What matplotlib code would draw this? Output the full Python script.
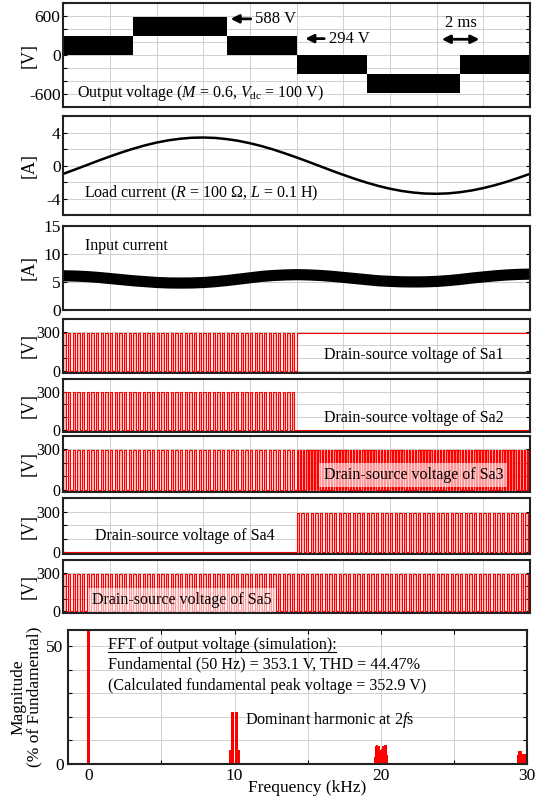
import numpy as np
import matplotlib
matplotlib.use('Agg')
import matplotlib.pyplot as plt
from matplotlib.lines import Line2D

# fonts
plt.rcParams['font.family'] = ['Liberation Serif', 'DejaVu Serif']
plt.rcParams['mathtext.fontset'] = 'custom'
plt.rcParams['mathtext.rm'] = 'Liberation Serif'
plt.rcParams['mathtext.it'] = 'Liberation Serif:italic'

# ---------------- data ----------------
# output voltage band (PWM between two levels), time in ms
vout_edges_ms = [0, 3, 7, 10, 13, 17, 20]
vout_low = [0, 294, 0, -294, -588, -294]
vout_high = [294, 588, 294, 0, -294, 0]

# load current (A), every 0.5 ms
t_half_ms = [i * 0.5 for i in range(41)]
i_load = [-0.99, -0.47, 0.06, 0.60, 1.11, 1.60, 2.05, 2.45, 2.79, 3.06,
          3.25, 3.37, 3.40, 3.35, 3.21, 3.00, 2.71, 2.36, 1.95, 1.48,
          0.99, 0.47, -0.06, -0.60, -1.11, -1.60, -2.05, -2.45, -2.79, -3.06,
          -3.25, -3.37, -3.40, -3.35, -3.21, -3.00, -2.71, -2.36, -1.95, -1.48,
          -0.99]

# input current: centre of ripple band (A) every 0.5 ms and half ripple
i_in_mid = [6.2, 6.15, 6.05, 5.9, 5.7, 5.5, 5.3, 5.15, 5.0, 4.92,
            4.9, 4.92, 5.0, 5.15, 5.35, 5.6, 5.85, 6.1, 6.25, 6.35,
            6.4, 6.35, 6.25, 6.1, 5.9, 5.7, 5.5, 5.3, 5.2, 5.12,
            5.1, 5.12, 5.2, 5.35, 5.55, 5.8, 6.0, 6.2, 6.35, 6.45,
            6.5]
i_in_ripple = 1.0

# drain-source voltages: switching frequency and state per interval
fs_khz = 5.0
vds_level = 294
duty = 0.5
sa_names = ['Sa1', 'Sa2', 'Sa3', 'Sa4', 'Sa5']
sa_states = [
    [(0, 10, 'sw'), (10, 20, 'hi')],
    [(0, 10, 'sw'), (10, 20, 'lo')],
    [(0, 10, 'sw'), (10, 20, 'sw2')],
    [(0, 10, 'lo'), (10, 20, 'sw')],
    [(0, 20, 'sw')],
]

# FFT of output voltage (% of fundamental)
fund_khz = [0.05]
fund_mag = [100]
harm_khz = [9.7, 9.8, 9.9, 10.1, 10.2, 10.3,
            19.55, 19.65, 19.75, 19.85, 19.95, 20.05, 20.15, 20.25, 20.35, 20.45,
            29.35, 29.45, 29.55, 29.65, 29.75, 29.85, 29.95]
harm_mag = [6.0, 22.0, 22.0, 22.0, 22.0, 6.0,
            3.0, 7.5, 8.0, 7.5, 6.0, 6.5, 7.5, 8.0, 8.0, 4.0,
            4.0, 5.4, 5.4, 4.2, 4.2, 4.2, 4.2]

# ---------------- figure ----------------
W, H = 538, 796
fig = plt.figure(figsize=(W / 100, H / 100), dpi=100)


def rect(x0, y0, x1, y1):
    return [x0 / W, 1 - y1 / H, (x1 - x0) / W, (y1 - y0) / H]


GRID = '#cfcfcf'
TXT = 11.5


def style(ax, yticks, ylabels, ylim, ylab, tsize=12.5):
    ax.set_xlim(0, 20)
    ax.set_ylim(*ylim)
    ax.set_xticks(np.arange(0, 21, 2))
    ax.set_yticks(yticks)
    ax.set_yticklabels(ylabels)
    ax.tick_params(axis='x', labelbottom=False, length=0)
    ax.tick_params(axis='y', direction='in', right=True, length=3,
                   width=0.8, labelsize=tsize, pad=2)
    ax.grid(True, color=GRID, lw=0.7)
    ax.set_axisbelow(True)
    for s in ax.spines.values():
        s.set_linewidth(1.5)
        s.set_color('#222222')
    ax.set_ylabel(ylab, fontsize=13)
    ax.yaxis.set_label_coords(-0.054, 0.5)


# output voltage
ax1 = fig.add_axes(rect(63.3, 3.3, 530, 107))
ax1.stairs(vout_high, vout_edges_ms, baseline=vout_low, fill=True, color='black')
style(ax1, np.arange(-800, 801, 200),
      ['', '-600', '', '', '0', '', '', '600', ''], (-800, 800), '[V]')
ax1.text(0.57, -580, 'Output voltage ($M$ = 0.6, $V_{\\mathrm{dc}}$ = 100 V)',
         fontsize=TXT, va='center')
ax1.annotate('', xy=(7.05, 560), xytext=(8.15, 560),
             arrowprops=dict(arrowstyle='-|>', color='k', lw=2, mutation_scale=12))
ax1.text(8.2, 560, '588 V', fontsize=TXT + 0.5, va='center')
ax1.annotate('', xy=(10.25, 255), xytext=(11.3, 255),
             arrowprops=dict(arrowstyle='-|>', color='k', lw=2, mutation_scale=12))
ax1.text(11.4, 255, '294 V', fontsize=TXT + 0.5, va='center')
ax1.annotate('', xy=(16.1, 245), xytext=(17.95, 245),
             arrowprops=dict(arrowstyle='<|-|>', color='k', lw=2, mutation_scale=12))
ax1.text(17.05, 500, '2 ms', fontsize=TXT + 0.5, va='center', ha='center')

# load current
ax2 = fig.add_axes(rect(63.3, 116, 530, 215.3))
ax2.plot(t_half_ms, i_load, color='black', lw=1.8)
style(ax2, np.arange(-6, 7, 2), ['', '-4', '', '0', '', '4', ''], (-6, 6), '[A]')
ax2.text(0.9, -3.3, 'Load current ($R$ = 100 Ω, $L$ = 0.1 H)', fontsize=TXT, va='center')

# input current
ax3 = fig.add_axes(rect(63.3, 226, 530, 310))
mid = np.array(i_in_mid)
ax3.fill_between(t_half_ms, mid - i_in_ripple, mid + i_in_ripple, color='black', lw=0)
style(ax3, [0, 5, 10, 15], ['0', '5', '10', '15'], (0, 15), '[A]')
ax3.text(0.95, 11.4, 'Input current', fontsize=TXT, va='center')


def pulse_train(segments):
    t, v, f = [], [], []
    for a, b, mode in segments:
        if mode == 'hi':
            t.append(a); v.append(vds_level); f.append(0)
        elif mode == 'lo':
            t.append(a); v.append(0); f.append(0)
        else:
            period = 1.0 / fs_khz / (1.5 if mode == 'sw2' else 1)
            n = int(round((b - a) / period))
            for k in range(n):
                t0 = a + k * period
                t += [t0, t0 + duty * period]
                v += [vds_level, 0]
                f += [vds_level, 0]
    t.append(20); v.append(v[-1]); f.append(f[-1])
    return np.array(t), np.array(v), np.array(f)


sa_rects = [(319, 372.7), (379, 431.7), (436, 491.7), (498.3, 554), (560, 613.3)]
sa_text = [(15.0, 121, False), (15.0, 91, False), (15.0, 108, True),
           (5.2, 118, False), (5.1, 89, True)]
for name, st, (y0, y1), (tx, ty, box) in zip(sa_names, sa_states, sa_rects, sa_text):
    ax = fig.add_axes(rect(63.3, y0, 530, y1))
    t, v, f = pulse_train(st)
    ax.fill_between(t, 0, f, step='post', color='#ff2020', alpha=0.3, lw=0)
    if name == 'Sa3':
        ax.axvspan(10, 20, ymin=15 / 415, ymax=(15 + vds_level) / 415,
                   color='#ff3030', alpha=0.35, lw=0)
    ax.step(t, v, where='post', color='#ff0000', lw=0.8)
    style(ax, [0, 100, 200, 300, 400], ['0', '', '', '300', ''], (-15, 400), '[V]',
          tsize=11.5)
    bbox = dict(facecolor='white', alpha=0.6, edgecolor='none', pad=3) if box else None
    ax.text(tx, ty, 'Drain-source voltage of ' + name, fontsize=TXT, ha='center',
            va='center', bbox=bbox)

# FFT
ax6 = fig.add_axes(rect(67.7, 630, 527.3, 764))
ax6.bar(fund_khz, fund_mag, width=0.2, color='#ff0000', lw=0)
ax6.bar(harm_khz, harm_mag, width=0.11, color='#ff0000', lw=0)
ax6.set_xlim(-1.4, 30)
ax6.set_ylim(0, 57)
ax6.set_xticks(np.arange(0, 31, 5))
ax6.set_xticklabels(['0', '', '10', '', '20', '', '30'])
ax6.set_yticks(np.arange(0, 51, 10))
ax6.set_yticklabels(['0', '', '', '', '', '50'])
ax6.tick_params(direction='in', right=True, top=True, length=3, width=0.8,
                labelsize=12.5, pad=3)
ax6.grid(True, color=GRID, lw=0.7)
ax6.set_axisbelow(True)
for s in ax6.spines.values():
    s.set_linewidth(1.5)
    s.set_color('#222222')
ax6.set_xlabel('Frequency (kHz)', fontsize=12.5)
ax6.xaxis.set_label_coords(0.52, -0.12)
ax6.set_ylabel('Magnitude\n(% of Fundamental)', fontsize=12.5, linespacing=1.0)
ax6.yaxis.set_label_coords(-0.054, 0.5)

FT = 11.6
t1 = ax6.text(1.34, 50.8, 'FFT of output voltage (simulation):', fontsize=FT, va='center')
ax6.text(1.34, 42.2, 'Fundamental (50 Hz) = 353.1 V, THD = 44.47%', fontsize=FT, va='center')
ax6.text(1.34, 33.3, '(Calculated fundamental peak voltage = 352.9 V)', fontsize=FT, va='center')
ax6.text(10.7, 18.6, 'Dominant harmonic at 2$f$s', fontsize=FT, va='center')

fig.canvas.draw()
bb = t1.get_window_extent()
fig.add_artist(Line2D([bb.x0 / W, bb.x1 / W], [(bb.y0 + 1) / H, (bb.y0 + 1) / H],
                      color='black', lw=0.8))

fig.savefig('out.png', dpi=100)
